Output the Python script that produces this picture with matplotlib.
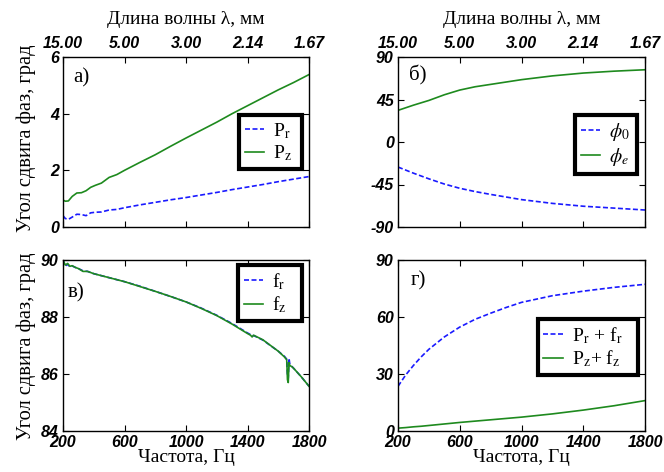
import matplotlib
matplotlib.use("Agg")
import matplotlib.pyplot as plt
from matplotlib.font_manager import FontProperties

plt.rcParams["mathtext.fontset"] = "stix"

# --- data ---------------------------------------------------------------
freq_ticks = [200, 600, 1000, 1400, 1800]
wavelength_labels = ["15.00", "5.00", "3.00", "2.14", "1.67"]

# panel а)
f_a = [200, 215, 235, 260, 290, 320, 350, 380, 410, 450, 500, 550, 600,
       700, 800, 900, 1000, 1100, 1200, 1300, 1400, 1500, 1600, 1700, 1800]
p_r = [0.40, 0.30, 0.27, 0.35, 0.45, 0.44, 0.40, 0.50, 0.52, 0.53, 0.60, 0.62,
       0.68, 0.78, 0.87, 0.96, 1.04, 1.13, 1.22, 1.32, 1.41, 1.50, 1.60, 1.69, 1.78]
p_z = [0.95, 0.91, 0.92, 1.08, 1.20, 1.21, 1.28, 1.40, 1.47, 1.55, 1.75, 1.85,
       2.00, 2.28, 2.55, 2.85, 3.14, 3.42, 3.70, 4.00, 4.28, 4.56, 4.84, 5.10, 5.38]

# panel б)
f_b = [200, 300, 400, 500, 600, 700, 800, 1000, 1200, 1400, 1600, 1800]
phi_0 = [-26.5, -33, -39, -44.5, -49, -52.5, -55.5, -61, -65, -68, -70, -72]
phi_e = [33.5, 39, 44, 50, 55, 58.5, 61, 66, 70, 73, 75, 76.5]

# panel в)
f_c = [200, 215, 230, 245, 260, 280, 300, 330, 360, 400, 450, 500, 600, 700,
       800, 900, 1000, 1100, 1200, 1300, 1400, 1420, 1430, 1440, 1500, 1600,
       1640, 1655, 1660, 1665, 1670, 1675, 1690, 1700, 1750, 1800]
f_r = [90.0, 89.78, 89.85, 89.76, 89.79, 89.74, 89.70, 89.62, 89.60, 89.52,
       89.45, 89.38, 89.24, 89.08, 88.90, 88.72, 88.53, 88.31, 88.06, 87.77,
       87.44, 87.38, 87.34, 87.35, 87.19, 86.80, 86.62, 86.52, 85.95, 85.85,
       86.55, 86.35, 86.26, 86.20, 85.90, 85.57]
f_z = [90.0, 89.82, 89.88, 89.78, 89.80, 89.74, 89.70, 89.60, 89.60, 89.52,
       89.45, 89.38, 89.24, 89.07, 88.90, 88.72, 88.53, 88.30, 88.05, 87.75,
       87.42, 87.36, 87.30, 87.36, 87.20, 86.80, 86.60, 86.50, 85.80, 85.70,
       86.40, 86.30, 86.25, 86.20, 85.90, 85.57]

# panel г)
f_d = [200, 250, 300, 350, 400, 500, 600, 700, 800, 900, 1000, 1200, 1400, 1600, 1800]
sum_r = [23.5, 29.5, 34.5, 39, 43, 49.5, 54.7, 58.8, 62, 65, 67.7, 71.2, 73.6, 75.6, 77.2]
sum_z = [1.5, 1.8, 2.2, 2.5, 2.9, 3.7, 4.5, 5.2, 5.9, 6.6, 7.3, 9.0, 11.0, 13.3, 16.0]

# --- styling ------------------------------------------------------------
BLUE = "#1a1aff"
GREEN = "#1e8a1e"
SERIF = "Liberation Serif"
tick_fp = FontProperties(family="Liberation Sans", weight="bold", style="italic", size=11.5)

fig = plt.figure(figsize=(6.64, 4.72), dpi=100)
W, H = 664, 472


def make_axes(left, top, right, bottom):
    return fig.add_axes([left / W, 1 - bottom / H, (right - left) / W, (bottom - top) / H])


ax_a = make_axes(63, 57, 309, 227)
ax_b = make_axes(398, 57, 645, 227)
ax_c = make_axes(63, 260, 309, 431)
ax_d = make_axes(398, 260, 645, 431)


def style(ax, yticks, ylim, top_panel):
    ax.set_xlim(200, 1800)
    ax.set_ylim(*ylim)
    ax.set_xticks(freq_ticks)
    ax.set_yticks(yticks)
    ax.tick_params(direction="in", top=True, right=True, length=4, width=0.8, pad=2)
    ax.tick_params(axis="y", pad=3)
    for s in ax.spines.values():
        s.set_linewidth(1.0)
    if top_panel:
        ax.tick_params(axis="x", labeltop=True, labelbottom=False, pad=4)
        ax.set_xticklabels(wavelength_labels)
        ax.xaxis.set_label_position("top")
        ax.set_xlabel("Длина волны λ, мм", family=SERIF, size=14, labelpad=9)
    else:
        ax.tick_params(axis="x", pad=3)
        ax.set_xticklabels([str(t) for t in freq_ticks])
        ax.set_xlabel("Частота, Гц", family=SERIF, size=14, labelpad=-1)
    ax.set_yticklabels([str(t) for t in yticks])
    for lab in ax.get_xticklabels() + ax.get_yticklabels():
        lab.set_fontproperties(tick_fp)


def ylabel(ax, yc):
    ax.set_ylabel("Угол сдвига фаз, град", family=SERIF, size=14.8)
    ax.yaxis.set_label_coords(-0.108, yc)


def legend(ax, x0, y_top, width):
    leg = ax.legend(loc="upper left", bbox_to_anchor=(x0, y_top, width, 0),
                    mode="expand", borderaxespad=0,
                    fancybox=False, framealpha=1, edgecolor="black",
                    prop=dict(family=SERIF, size=14), handlelength=1.0,
                    handletextpad=0.45, borderpad=0.3, labelspacing=0.15)
    leg.get_frame().set_linewidth(3.0)


# а)
ax_a.plot(f_a, p_r, "--", color=BLUE, lw=1.2, dashes=(3, 1.5), label=r"P$_\mathrm{r}$")
ax_a.plot(f_a, p_z, "-", color=GREEN, lw=1.2, label=r"P$_\mathrm{z}$")
style(ax_a, [0, 2, 4, 6], (0, 6), True)
ylabel(ax_a, 0.52)
ax_a.text(0.04, 0.875, "а)", transform=ax_a.transAxes, family=SERIF, size=15, va="center")
legend(ax_a, 0.715, 0.659, 0.257)

# б)
ax_b.plot(f_b, phi_0, "--", color=BLUE, lw=1.2, dashes=(3, 1.5), label=r"$\phi_0$")
ax_b.plot(f_b, phi_e, "-", color=GREEN, lw=1.2, label=r"$\phi_e$")
style(ax_b, [-90, -45, 0, 45, 90], (-90, 90), True)
ax_b.text(0.045, 0.89, "б)", transform=ax_b.transAxes, family=SERIF, size=15, va="center")
legend(ax_b, 0.717, 0.659, 0.251)

# в)
ax_c.plot(f_c, f_r, "--", color=BLUE, lw=1.2, dashes=(3, 1.5), label=r"f$_\mathrm{r}$")
ax_c.plot(f_c, f_z, "-", color=GREEN, lw=1.2, label=r"f$_\mathrm{z}$")
style(ax_c, [84, 86, 88, 90], (84, 90), False)
ylabel(ax_c, 0.494)
ax_c.text(0.02, 0.81, "в)", transform=ax_c.transAxes, family=SERIF, size=15, va="center")
legend(ax_c, 0.711, 0.97, 0.261)

# г)
ax_d.plot(f_d, sum_r, "--", color=BLUE, lw=1.2, dashes=(3, 1.5),
          label=r"P$_\mathrm{r}$ + f$_\mathrm{r}$")
ax_d.plot(f_d, sum_z, "-", color=GREEN, lw=1.2,
          label=r"P$_\mathrm{z}$+ f$_\mathrm{z}$")
style(ax_d, [0, 30, 60, 90], (0, 90), False)
ax_d.text(0.05, 0.88, "г)", transform=ax_d.transAxes, family=SERIF, size=15, va="center")
legend(ax_d, 0.565, 0.655, 0.407)

fig.savefig("out.png", dpi=100)
